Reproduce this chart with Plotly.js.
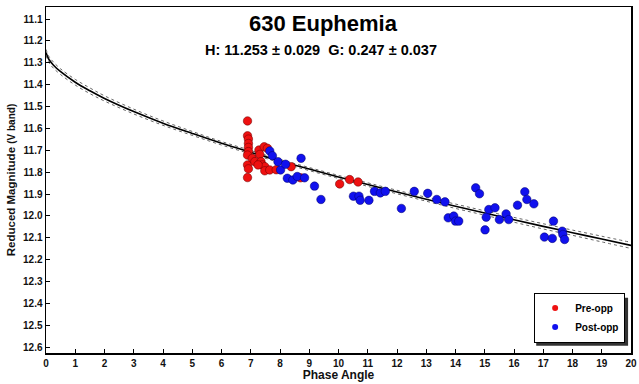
<!DOCTYPE html>
<html>
<head>
<meta charset="utf-8">
<script src="https://cdn.plot.ly/plotly-3.0.1.min.js"></script>
<style>html,body{margin:0;padding:0;background:#fff;}#chart{width:639px;height:384px;}</style>
</head>
<body>
<div id="chart"></div>
<script>
// Fitted H-G curve
const curveAngle = [0,0.1,0.25,0.5,1,1.5,2,3,4,5,6,7,8,9,10,11,12,13,14,15,16,17,18,19,20];
const curveMag   = [11.253,11.285,11.310,11.341,11.389,11.428,11.463,11.523,11.576,11.623,11.668,11.709,11.749,11.786,11.822,11.857,11.891,11.924,11.956,11.987,12.018,12.048,12.077,12.106,12.135];
const curveUpper = [11.239,11.271,11.296,11.328,11.376,11.415,11.451,11.512,11.566,11.614,11.660,11.701,11.742,11.779,11.815,11.849,11.883,11.915,11.946,11.977,12.007,12.036,12.065,12.093,12.121];
const curveLower = [11.267,11.299,11.324,11.354,11.402,11.441,11.475,11.534,11.586,11.632,11.676,11.717,11.756,11.793,11.829,11.865,11.899,11.933,11.966,11.997,12.029,12.060,12.089,12.119,12.149];

// Pre-opposition observations
const preAngle = [6.89,6.89,6.92,6.92,6.92,6.92,6.89,6.89,6.92,6.89,7.05,7.14,7.28,7.31,7.35,7.46,7.57,7.39,7.48,7.48,7.65,7.25,7.87,8.38,8.70,10.04,10.38,10.67];
const preMag   = [11.566,11.634,11.649,11.669,11.687,11.706,11.722,11.767,11.785,11.825,11.737,11.752,11.699,11.719,11.752,11.684,11.691,11.767,11.775,11.794,11.790,11.767,11.789,11.775,11.826,11.854,11.834,11.845];

// Post-opposition observations
const postAngle = [7.65,7.74,7.93,8.02,8.19,8.72,8.25,8.44,8.59,8.84,9.18,9.40,10.51,10.70,10.74,11.04,11.23,11.43,11.60,12.15,12.59,13.05,13.36,13.64,13.75,13.94,14.00,14.11,14.69,14.82,15.01,15.05,15.14,15.35,15.50,15.73,15.82,16.12,16.37,16.44,16.68,17.04,17.31,17.35,17.65,17.67,17.73];
const postMag   = [11.703,11.725,11.752,11.790,11.764,11.737,11.828,11.836,11.820,11.826,11.864,11.925,11.910,11.910,11.929,11.929,11.888,11.895,11.888,11.966,11.888,11.897,11.925,11.936,12.009,12.001,12.024,12.024,11.872,11.899,12.064,12.006,11.971,11.963,12.017,11.991,12.017,11.951,11.890,11.925,11.945,12.097,12.103,12.024,12.070,12.085,12.108];

const seriesNames = ['Pre-opp', 'Post-opp'];
const seriesColors = ['#ee1111', '#1111ee'];
const titleText = "630 Euphemia";
const subtitleText = "H: 11.253 ± 0.029&nbsp;&nbsp;G: 0.247 ± 0.037";
const xTitle = "Phase Angle";
const yTitle = "Reduced Magnitude";
const yTitleSmall = "(V band)";

const FONT = "Liberation Sans, Arial, sans-serif";

const traces = [
  {x: curveAngle, y: curveUpper, mode: 'lines', line: {color: '#666', width: 1, dash: 'dot', shape: 'spline'}, showlegend: false, hoverinfo: 'skip'},
  {x: curveAngle, y: curveLower, mode: 'lines', line: {color: '#666', width: 1, dash: 'dot', shape: 'spline'}, showlegend: false, hoverinfo: 'skip'},
  {x: curveAngle, y: curveMag, mode: 'lines', line: {color: '#000', width: 1.6, shape: 'spline'}, showlegend: false},
  {x: preAngle, y: preMag, mode: 'markers', name: seriesNames[0], showlegend: false,
   marker: {color: seriesColors[0], size: 8.5, line: {color: '#660000', width: 0.5}}},
  {x: postAngle, y: postMag, mode: 'markers', name: seriesNames[1], showlegend: false,
   marker: {color: seriesColors[1], size: 8.5, line: {color: '#000066', width: 0.5}}},
  // legend entries (smaller symbols, as in the original legend)
  {x: [null], y: [null], mode: 'markers', name: seriesNames[0],
   marker: {color: seriesColors[0], size: 6}},
  {x: [null], y: [null], mode: 'markers', name: seriesNames[1],
   marker: {color: seriesColors[1], size: 6}}
];

const axisCommon = {
  showgrid: false, zeroline: false, showline: true, linecolor: '#000', linewidth: 1.5,
  mirror: true, ticks: 'inside', ticklen: 4, tickcolor: '#000', tickwidth: 1,
  ticklabeloverflow: 'allow',
  tickfont: {family: FONT, size: 10, color: '#111', weight: 'bold'}
};

const layout = {
  width: 639, height: 384,
  margin: {l: 46, r: 8, t: 7, b: 31},
  paper_bgcolor: '#fff', plot_bgcolor: '#fff',
  font: {family: FONT},
  xaxis: Object.assign({}, axisCommon, {
    range: [0, 20], dtick: 1, tick0: 0,
    title: {text: '<b>' + xTitle + '</b>', font: {family: FONT, size: 12, color: '#111'}, standoff: 2}
  }),
  yaxis: Object.assign({}, axisCommon, {
    range: [12.627, 11.045], dtick: 0.1, tick0: 11.0, tickformat: '.1f',
    title: {text: "<b>" + yTitle + " <span style='font-size:10px'>" + yTitleSmall + "</span></b>", font: {family: FONT, size: 11.5, color: '#111'}, standoff: 5}
  }),
  showlegend: true,
  legend: {
    x: 0.99, y: 0.03, xanchor: 'right', yanchor: 'bottom',
    bgcolor: '#fff', bordercolor: '#000', borderwidth: 1,
    font: {family: FONT, size: 10, color: '#000', weight: 'bold'},
    itemwidth: 30, tracegroupgap: 0, traceorder: 'normal'
  },
  // drop shadow of the legend box
  shapes: [{
    type: 'rect', xref: 'paper', yref: 'paper', layer: 'above',
    x0: 0.838, x1: 0.995, y0: 0.021, y1: 0.16,
    fillcolor: '#333', line: {width: 0}
  }],
  annotations: [
    {text: '<b>' + titleText + '</b>', xref: 'paper', yref: 'paper', x: 0.475, y: 0.953, xanchor: 'center', yanchor: 'middle', showarrow: false, font: {family: FONT, size: 22, color: '#000'}},
    {text: '<b>' + subtitleText + '</b>', xref: 'paper', yref: 'paper', x: 0.47, y: 0.876, xanchor: 'center', yanchor: 'middle', showarrow: false, font: {family: FONT, size: 14.5, color: '#000'}}
  ]
};

Plotly.newPlot('chart', traces, layout, {displayModeBar: false, staticPlot: true});
</script>
</body>
</html>
